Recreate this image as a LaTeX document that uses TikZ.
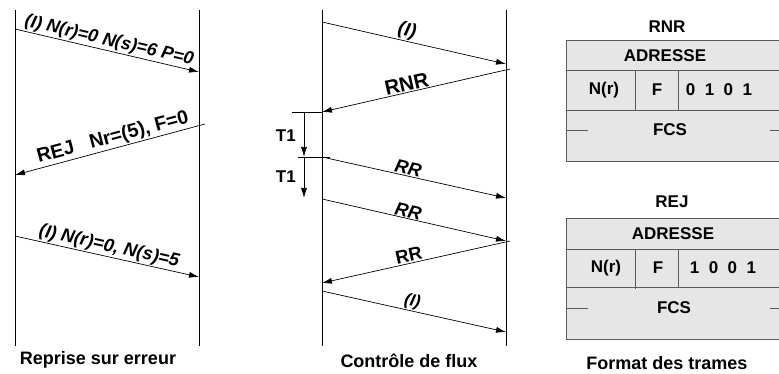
\documentclass[tikz,border=0pt]{standalone}
\usepackage{fontspec}
\setmainfont{Liberation Sans}
\usetikzlibrary{arrows.meta,positioning}

\definecolor{fondtrame}{HTML}{E6E6E6}
\definecolor{bordtrame}{HTML}{5A5A5A}

\begin{document}
\begin{tikzpicture}[x=1pt, y=-1pt,
    vie/.style={line width=0.8pt},
    flujo/.style={-{Latex[length=10pt,width=6pt]}, line width=0.7pt},
    etiq/.style={font=\bfseries\fontsize{#1}{22}\selectfont, sloped, above, inner sep=1pt, pos=0.54},
    etiq/.default=18,
    etiqit/.style={etiq, font=\bfseries\itshape\fontsize{#1}{22}\selectfont, pos=0.45},
    etiqit/.default=18,
    texte/.style={font=\bfseries\fontsize{17}{19}\selectfont, inner sep=0pt},
    legende/.style={font=\bfseries\fontsize{18}{20}\selectfont, inner sep=0pt},
    champ/.style={draw=bordtrame, line width=0.8pt},
]
\useasboundingbox (0,0) rectangle (779,374);
\clip (0,0) rectangle (779,374);

% Reprise sur erreur
\draw [vie] (15,10) -- (15,346);
\draw [vie] (199,10) -- (199,346);
\coordinate (e1) at (15,29);  \coordinate (r1) at (199,72);
\coordinate (r2) at (205,124); \coordinate (e2) at (15,175);
\coordinate (e3) at (15,236); \coordinate (r3) at (199,277);
\draw [flujo] (e1) -- node[etiqit=18, pos=0.5] {(I) N(r)=0 N(s)=6 P=0} (r1);
\draw [flujo] (r2) -- node[etiq=19.5, pos=0.47] {REJ\ \ \ Nr=(5), F=0} (e2);
\draw [flujo] (e3) -- node[etiqit=18.4, pos=0.5] {(I) N(r)=0, N(s)=5} (r3);
\node (reprise) [legende] at (98,360) {Reprise sur erreur};

% Controle de flux
\draw [vie] (322,10) -- (322,346);
\draw [vie] (506,10) -- (506,346);
\coordinate (a1) at (322,22);  \coordinate (b1) at (506,64);
\coordinate (b2) at (510,69);  \coordinate (a2) at (322,112);
\coordinate (a3) at (322,157); \coordinate (b3) at (506,198);
\coordinate (a4) at (322,199); \coordinate (b4) at (506,241);
\coordinate (b5) at (510,241); \coordinate (a5) at (322,283);
\coordinate (a6) at (322,291); \coordinate (b6) at (506,332);
\draw [flujo] (a1) -- node[etiqit=19] {(I)} (b1);
\draw [flujo] (b2) -- node[etiq=20.5] {RNR} (a2);
\draw [flujo] (a3) -- node[etiqit=18.5, pos=0.46] {RR} (b3);
\draw [flujo] (a4) -- node[etiqit=18.5, pos=0.46] {RR} (b4);
\draw [flujo] (b5) -- node[etiq=18.5, pos=0.53] {RR} (a5);
\draw [flujo] (a6) -- node[etiqit=17, pos=0.48] {(I)} (b6);

% temporisations
\coordinate (t0) at (304,112); \coordinate (t1) at (304,157); \coordinate (t2) at (304,198);
\draw [vie] (292,112) -- (a2);
\draw [vie] (298,157) -- (330,157);
\draw [flujo] (t0) -- (t1);
\draw [flujo] (t1) -- (t2);
\node (tempo1) [texte, anchor=east] at (296,136) {T1};
\node (tempo2) [texte, anchor=east] at (296,177) {T1};
\node (controle) [legende] at (409,361) {Contrôle de flux};

% Format des trames
\node (titrernr) [texte] at (667,27) {RNR};
\fill [fondtrame] (566,40) rectangle (790,161);
\draw [champ] (790,40) -- (566,40) -- (566,161) -- (790,161);
\draw [champ] (566,70.5) -- (790,70.5);
\draw [champ] (566,110) -- (790,110);
\draw [champ] (635,70.5) -- (635,110);
\draw [champ] (678,70.5) -- (678,110);
\draw [champ] (566,130) -- (588,130);
\draw [champ] (770,130) -- (790,130);
\node (adr1) [texte] at (665,55.5) {ADRESSE};
\node (nr1) [texte] at (604,90) {N(r)};
\node (f1) [texte] at (657,90) {F};
\node (bits1) [texte] at (719,90) {0\ \ 1\ \ 0\ \ 1};
\node (fcs1) [texte] at (670,130) {FCS};

\node (titrerej) [texte] at (672,202) {REJ};
\fill [fondtrame] (566,218) rectangle (790,339);
\draw [champ] (790,218) -- (566,218) -- (566,339) -- (790,339);
\draw [champ] (566,249) -- (790,249);
\draw [champ] (566,287) -- (790,287);
\draw [champ] (635,249) -- (635,288.5);
\draw [champ] (678,249) -- (678,287);
\draw [champ] (566,308) -- (588,308);
\draw [champ] (770,308) -- (790,308);
\node (adr2) [texte] at (673,233.5) {ADRESSE};
\node (nr2) [texte] at (606,268) {N(r)};
\node (f2) [texte] at (658,268) {F};
\node (bits2) [texte] at (723,268) {1\ \ 0\ \ 0\ \ 1};
\node (fcs2) [texte] at (674,308) {FCS};
\node (format) [legende] at (667,363) {Format des trames};

\end{tikzpicture}
\end{document}
